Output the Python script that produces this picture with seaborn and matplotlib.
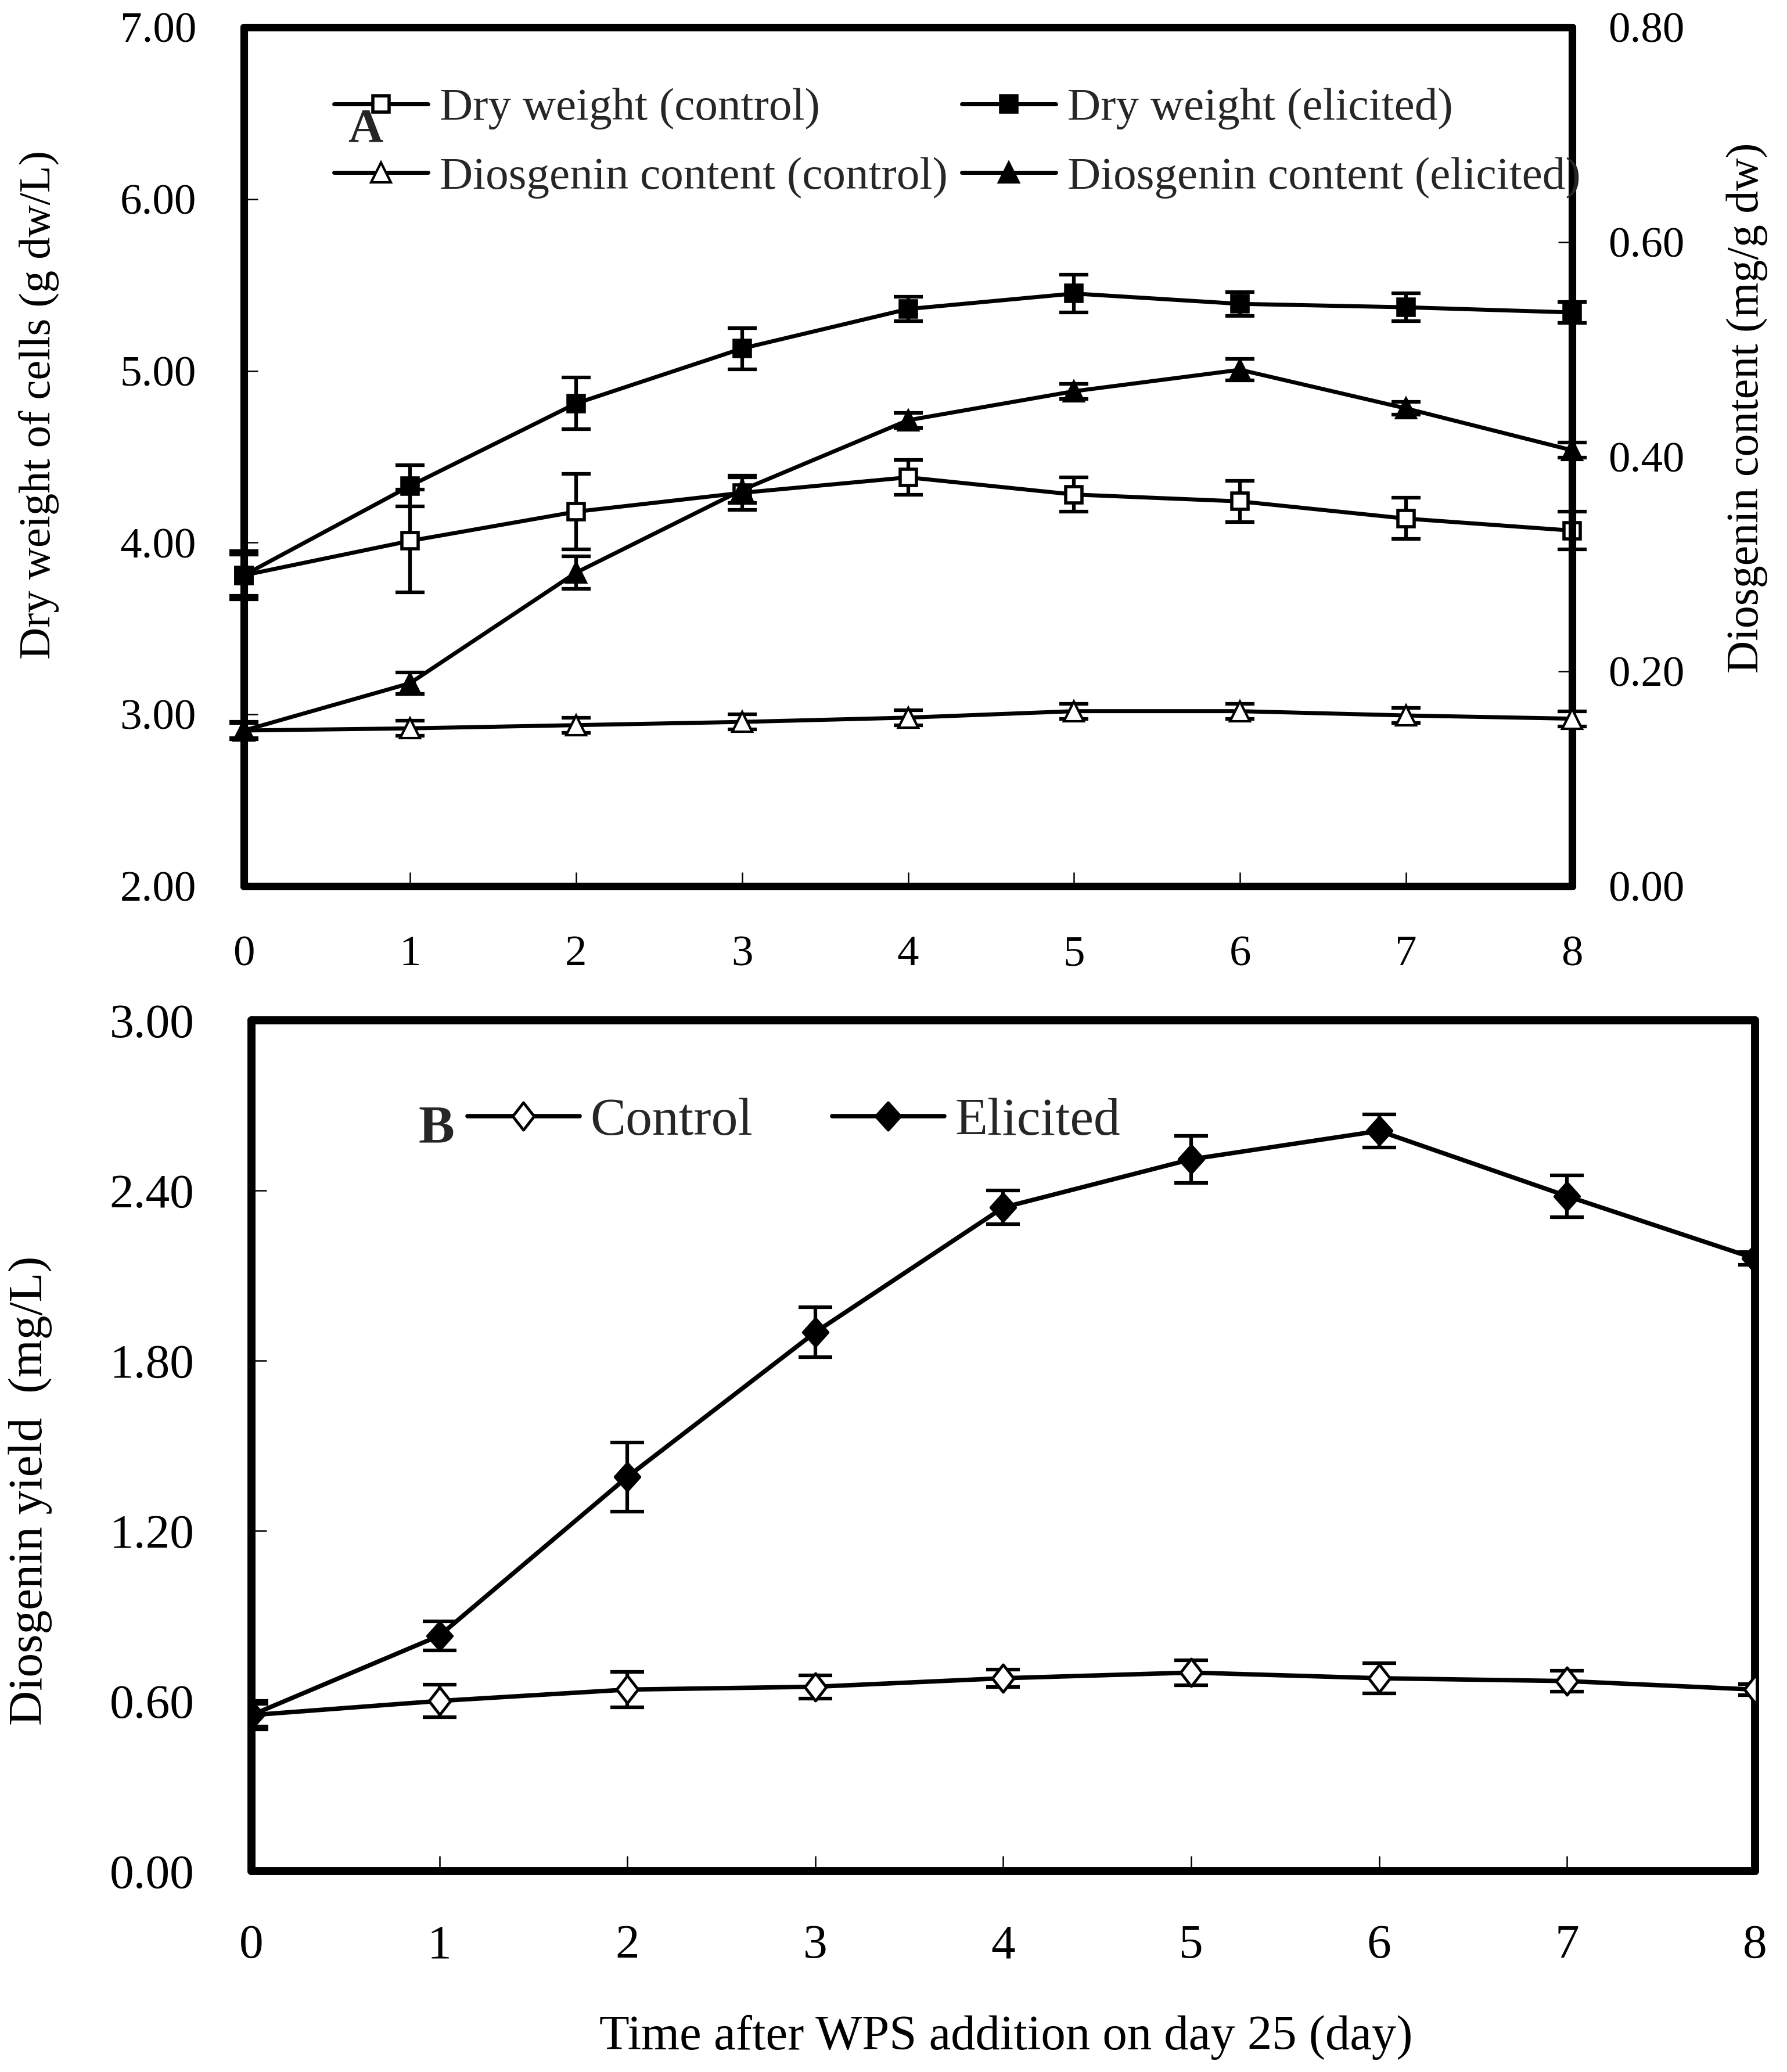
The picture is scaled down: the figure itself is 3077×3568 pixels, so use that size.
import numpy as np
import pandas as pd
import seaborn as sns
import matplotlib
matplotlib.use("Agg")
import matplotlib.pyplot as plt
from matplotlib.path import Path

# ---- data ----
days = [0, 1, 2, 3, 4, 5, 6, 7, 8]

dw_control = [3.81, 4.01, 4.18, 4.29, 4.38, 4.28, 4.24, 4.14, 4.07]
dw_control_err = [0.12, 0.30, 0.22, 0.10, 0.10, 0.10, 0.12, 0.12, 0.11]
dw_elicited = [3.81, 4.33, 4.81, 5.13, 5.36, 5.45, 5.39, 5.37, 5.34]
dw_elicited_err = [0.14, 0.12, 0.15, 0.12, 0.07, 0.11, 0.07, 0.08, 0.06]

dc_control = [0.145, 0.147, 0.150, 0.153, 0.157, 0.163, 0.163, 0.159, 0.156]
dc_control_err = [0.007, 0.007, 0.007, 0.007, 0.007, 0.007, 0.007, 0.007, 0.007]
dc_elicited = [0.145, 0.189, 0.292, 0.369, 0.434, 0.461, 0.481, 0.445, 0.406]
dc_elicited_err = [0.008, 0.010, 0.015, 0.012, 0.007, 0.007, 0.010, 0.006, 0.007]

yield_control = [0.55, 0.60, 0.64, 0.65, 0.68, 0.70, 0.68, 0.67, 0.64]
yield_control_err = [0.05, 0.057, 0.063, 0.041, 0.03, 0.044, 0.054, 0.037, 0.02]
yield_elicited = [0.55, 0.83, 1.39, 1.90, 2.34, 2.51, 2.61, 2.38, 2.16]
yield_elicited_err = [0.04, 0.051, 0.122, 0.088, 0.059, 0.083, 0.059, 0.074, 0.022]

sns.set_theme(style="ticks")
plt.rcParams['font.family'] = ['Liberation Serif', 'DejaVu Serif']
plt.rcParams['mathtext.fontset'] = 'stix'

W, H = 3077, 3568
fig = plt.figure(figsize=(W / 100, H / 100), dpi=100)
fig.patch.set_facecolor('white')


def px_axes(l, r, t, b):
    return [l / W, 1 - b / H, (r - l) / W, (b - t) / H]


def style_frame(a, lw):
    a.set_facecolor('none')
    for s in a.spines.values():
        s.set_visible(True)
        s.set_linewidth(lw)
        s.set_color('black')
        s.set_capstyle('round')


def draw(a, x, y, err, marker, ms, mfc, mew, lw, elw, cap, label, clip=True):
    a.errorbar(x, y, yerr=err, fmt='none', ecolor='black', elinewidth=elw,
               capsize=cap, capthick=elw, zorder=2, clip_on=clip)
    sns.lineplot(x=x, y=y, ax=a, color='black', linewidth=lw, marker=marker,
                 markersize=ms, markerfacecolor=mfc, markeredgecolor='black',
                 markeredgewidth=mew, legend=False, label=label, errorbar=None,
                 zorder=3, clip_on=clip)


# ================= panel A =================
ax = fig.add_axes(px_axes(420, 2707, 47, 1526))
ax2 = ax.twinx()
style_frame(ax, 9.4)
style_frame(ax2, 9.4)

draw(ax, days, dw_control, dw_control_err, 's', 20, 'white', 4, 5, 4.5, 18,
     'Dry weight (control)', clip=False)
draw(ax, days, dw_elicited, dw_elicited_err, 's', 20, 'black', 4, 5, 4.5, 18,
     'Dry weight (elicited)', clip=False)
draw(ax2, days, dc_control, dc_control_err, '^', 25, 'white', 3, 5, 4.5, 18,
     'Diosgenin content (control)', clip=False)
draw(ax2, days, dc_elicited, dc_elicited_err, '^', 25, 'black', 3, 5, 4.5, 18,
     'Diosgenin content (elicited)', clip=False)

ax.set_xlim(0, 8)
ax.set_ylim(2, 7)
ax2.set_ylim(0, 0.8)
ax.set_xticks(days)
ax.set_yticks([2, 3, 4, 5, 6, 7])
ax.set_yticklabels([f"{v:.2f}" for v in [2, 3, 4, 5, 6, 7]])
ax2.set_yticks([0, 0.2, 0.4, 0.6, 0.8])
ax2.set_yticklabels([f"{v:.2f}" for v in [0, 0.2, 0.4, 0.6, 0.8]])
ax.tick_params(axis='x', direction='in', length=17, width=1.8, pad=61,
               labelsize=54, colors='black', top=False)
ax.tick_params(axis='y', direction='in', length=17, width=1.8, pad=59,
               labelsize=54, colors='black', right=False)
ax2.tick_params(axis='y', direction='in', length=17, width=1.8, pad=45,
                labelsize=54, colors='black', left=False)
ax.set_xlabel('')
ax.set_ylabel('Dry weight of cells (g dw/L)', fontsize=55, color='black')
ax.yaxis.set_label_coords(-0.1386, 0.5605)
ax2.set_ylabel('Diosgenin content (mg/g dw)', fontsize=56, color='black')
ax2.yaxis.set_label_coords(1.1159, 0.557)

h1, l1 = ax.get_legend_handles_labels()
h2, l2 = ax2.get_legend_handles_labels()
handles = [h1[0], h2[0], h1[1], h2[1]]
labels = [l1[0], l2[0], l1[1], l2[1]]
leg = ax2.legend(handles, labels, ncol=2, loc='upper left',
                 bbox_to_anchor=(575 / W, 1 - 151 / H),
                 bbox_transform=fig.transFigure, frameon=False,
                 fontsize=57, handlelength=2.05, handletextpad=0.25,
                 columnspacing=0.3, labelspacing=0.58, borderpad=0,
                 borderaxespad=0, numpoints=1)
fig.text(629 / W, 1 - 244 / H, 'A', fontsize=60, fontweight='bold',
         ha='center', va='baseline', zorder=10)

# ================= panel B =================
bx = fig.add_axes(px_axes(433, 3022, 1757, 3222))
style_frame(bx, 10)

open_dia = Path([(0, 1), (0.78, 0), (0, -1), (-0.78, 0), (0, 1)],
                [Path.MOVETO, Path.LINETO, Path.LINETO, Path.LINETO, Path.CLOSEPOLY])
fill_dia = Path([(0, 1), (0.9, 0), (0, -1), (-0.9, 0), (0, 1)],
                [Path.MOVETO, Path.LINETO, Path.LINETO, Path.LINETO, Path.CLOSEPOLY])

draw(bx, days, yield_control, yield_control_err, open_dia, 34, 'white', 3.5, 5.5,
     4.5, 21, 'Control')
draw(bx, days, yield_elicited, yield_elicited_err, fill_dia, 34, 'black', 3.5, 5.5,
     4.5, 21, 'Elicited')

bx.set_xlim(0, 8)
bx.set_ylim(0, 3)
bx.set_xticks(days)
yt = [0, 0.6, 1.2, 1.8, 2.4, 3.0]
bx.set_yticks(yt)
bx.set_yticklabels([f"{v:.2f}" for v in yt])
bx.tick_params(axis='x', direction='in', length=19, width=1.8, pad=66,
               labelsize=60, colors='black', top=False)
bx.tick_params(axis='y', direction='in', length=19, width=1.8, pad=71,
               labelsize=60, colors='black', right=False)
bx.set_xlabel('Time after WPS addition on day 25 (day)', fontsize=61, color='black')
bx.xaxis.set_label_coords(0.5017, -0.169)
bx.set_ylabel('Diosgenin yield  (mg/L)', fontsize=60, color='black')
bx.yaxis.set_label_coords(-0.1325, 0.447)

hb, lb = bx.get_legend_handles_labels()
bx.legend(hb, lb, ncol=2, loc='upper left',
          bbox_to_anchor=(805 / W, 1 - 1890 / H),
          bbox_transform=fig.transFigure, frameon=False,
          fontsize=66, handlelength=2.1, handletextpad=0.2,
          columnspacing=1.5, borderpad=0, borderaxespad=0, numpoints=1)
fig.text(752 / W, 1 - 1967 / H, 'B', fontsize=67, fontweight='bold',
         ha='center', va='baseline', zorder=10)

fig.savefig('out.png', dpi=100, facecolor='white')
